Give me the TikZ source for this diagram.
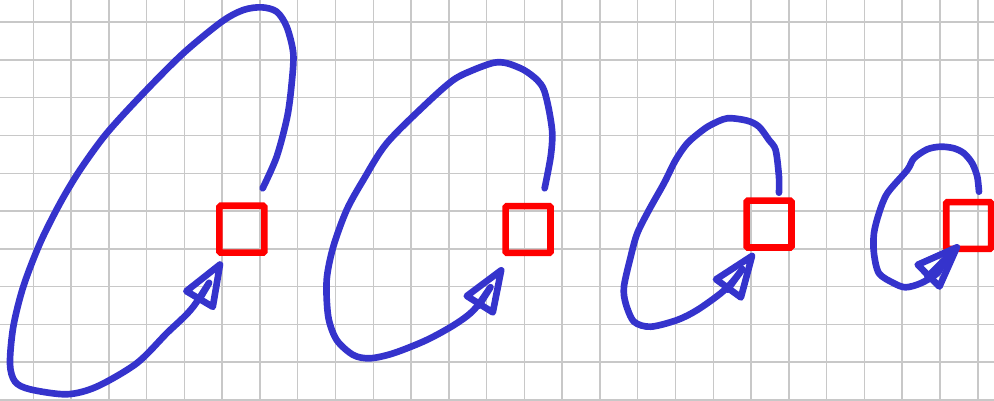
\documentclass[tikz,border=0pt]{standalone}
\usepackage{xcolor}
\usepackage{tikz}
\usetikzlibrary{arrows.meta,positioning}

\definecolor{penblue}{RGB}{53,51,204}
\definecolor{gridgray}{RGB}{200,200,200}

\begin{document}
\begin{tikzpicture}[x=1cm,y=1cm,
        cell/.style={draw=red,line width=5pt,rounded corners=1pt,minimum width=1.19cm,minimum height=1.24cm,inner sep=0pt},
        loopline/.style={draw=penblue,line width=5pt,line cap=round,line join=round,
          -{Triangle[open,round,length=40pt,width=29pt]}}]
        \useasboundingbox (-0.881,0) rectangle (25.43,10.588);
        \foreach \x in {0,...,25}
          \draw[gridgray,line width=1.1pt] (\x,0) -- (\x,10.588);
        \foreach \y in {0,...,10}
          \draw[gridgray,line width=1.1pt] (-0.881,\y) -- (25.43,\y);
        \node[cell] (box1) at (5.521,4.520) {};
        \node[cell] (box2) at (13.097,4.513) {};
        \node[cell] (box3) at (19.476,4.656) {};
        \node[cell] (box4) at (24.760,4.619) {};
        \coordinate (top1) at (6.072,5.604);
        \coordinate (top2) at (13.536,5.604);
        \coordinate (top3) at (19.738,5.487);
        \coordinate (top4) at (25.032,5.514);
        \draw[loopline] plot[smooth] coordinates {(top1) (6.443,6.440) (6.723,7.499) (6.840,8.383)
          (6.882,9.177) (6.707,9.881) (6.443,10.278) (6.046,10.394) (5.559,10.323) (4.987,10.013)
          (3.970,9.177) (2.912,8.118) (1.943,7.059) (1.236,6.088) (0.707,5.206) (0.177,4.148)
          (-0.265,2.999) (-0.529,1.940) (-0.617,0.960) (-0.484,0.485) (-0.087,0.283) (0.884,0.151)
          (1.678,0.352) (2.737,0.971) (3.531,1.765) (4.235,2.470) ([shift={(0.149,-0.151)}]box1.south west)};
        \draw[loopline] plot[smooth] coordinates {(top2) (13.695,6.440) (13.738,7.059) (13.650,7.676)
          (13.518,8.205) (13.340,8.470) (12.988,8.735) (12.546,8.912) (12.194,8.928) (11.646,8.735)
          (11.117,8.470) (10.413,7.853) (9.354,6.795) (8.735,5.823) (8.295,5.029) (7.941,4.058)
          (7.766,3.176) (7.808,2.205) (8.031,1.588) (8.470,1.191) (8.912,1.104) (9.529,1.236)
          (10.413,1.588) (11.207,2.030) (11.737,2.470) ([shift={(0.018,-0.298)}]box2.south west)};
        \draw[loopline] plot[smooth] coordinates {(top3) (19.738,5.911) (19.650,6.617) (19.473,6.882)
          (19.209,7.234) (18.899,7.393) (18.369,7.456) (17.930,7.279) (17.666,7.102) (17.311,6.795)
          (17.004,6.353) (16.694,5.736) (16.297,5.029) (15.987,4.412) (15.813,3.793) (15.635,2.999)
          (15.680,2.560) (15.900,2.073) (16.342,1.940) (17.046,2.118) (17.575,2.382) (18.195,2.824)
          (18.547,3.176) ([shift={(0.283,-0.065)}]box3.south west)};
        \draw[loopline] plot[smooth] coordinates {(top4) (24.987,5.911) (24.854,6.265) (24.635,6.530)
          (24.370,6.662) (24.018,6.705) (23.663,6.636) (23.311,6.398) (23.134,6.088) (22.605,5.471)
          (22.385,4.942) (22.252,4.412) (22.252,3.883) (22.385,3.354) (22.782,3.089) (23.091,2.983)
          (23.489,3.089) (23.928,3.354) (24.15,3.72) ([shift={(0.433,0.192)}]box4.south west)};
      \end{tikzpicture}
\end{document}
